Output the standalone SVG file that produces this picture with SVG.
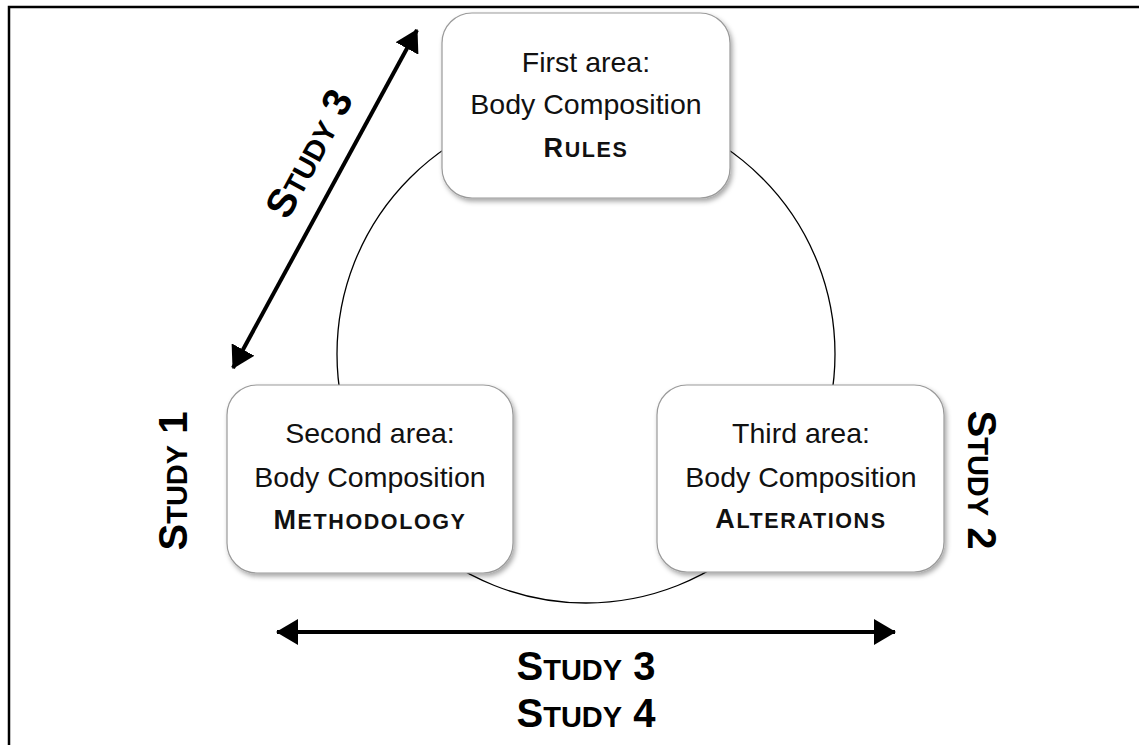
<svg xmlns="http://www.w3.org/2000/svg" width="1139" height="745" viewBox="0 0 1139 745">
<style>
.box{fill:#fff;stroke:#9a9a9a;stroke-width:1.2;filter:url(#sh)}
.t{font-family:"Liberation Sans",Arial,sans-serif;font-size:28.5px;fill:#111;text-anchor:middle}
.b{font-family:"Liberation Sans",Arial,sans-serif;font-weight:bold;fill:#111;text-anchor:middle;letter-spacing:1.6px}
.s{font-family:"Liberation Sans",Arial,sans-serif;font-weight:bold;fill:#000;text-anchor:middle}
.arr{stroke:#000;stroke-width:4;fill:none}
</style>
<defs>
<filter id="sh" x="-10%" y="-10%" width="125%" height="130%">
<feDropShadow dx="2" dy="3" stdDeviation="2.5" flood-color="#000" flood-opacity="0.35"/>
</filter>
<marker id="ah" viewBox="0 0 22 26" refX="21" refY="13" markerWidth="22" markerHeight="26" markerUnits="userSpaceOnUse" orient="auto-start-reverse">
<path d="M0,0 L22,13 L0,26 z" fill="#000"/>
</marker>
</defs>
<rect width="1139" height="745" fill="#fff"/>
<path d="M9,745 V7 H1139" fill="none" stroke="#000" stroke-width="2.5"/>
<circle cx="586" cy="354" r="249" fill="none" stroke="#000" stroke-width="1.3"/>
<g id="connectors">
<line class="arr" x1="233" y1="368" x2="417" y2="30" marker-start="url(#ah)" marker-end="url(#ah)"/>
<line class="arr" x1="277" y1="632" x2="895" y2="632" marker-start="url(#ah)" marker-end="url(#ah)"/>
</g>
<g id="node-first">
<rect class="box" x="442" y="13" width="288" height="185" rx="30"/>
<text class="t" x="586" y="72">First area:</text>
<text class="t" x="586" y="114">Body Composition</text>
<text class="b" x="586" y="157"><tspan font-size="27">R</tspan><tspan font-size="21.5">ULES</tspan></text>
</g>
<g id="node-second">
<rect class="box" x="227" y="385" width="286" height="188" rx="30"/>
<text class="t" x="370" y="443">Second area:</text>
<text class="t" x="370" y="487">Body Composition</text>
<text class="b" x="370" y="529"><tspan font-size="27">M</tspan><tspan font-size="21.5">ETHODOLOGY</tspan></text>
</g>
<g id="node-third">
<rect class="box" x="657" y="385" width="287" height="187" rx="30"/>
<text class="t" x="801" y="443">Third area:</text>
<text class="t" x="801" y="487">Body Composition</text>
<text class="b" x="801" y="528"><tspan font-size="27">A</tspan><tspan font-size="21.5">LTERATIONS</tspan></text>
</g>
<g id="labels">
<text class="s" transform="translate(187,481) rotate(-90)"><tspan font-size="40">S</tspan><tspan font-size="29">TUDY</tspan><tspan font-size="40"> 1</tspan></text>
<text class="s" transform="translate(968,480) rotate(90)"><tspan font-size="40">S</tspan><tspan font-size="29">TUDY</tspan><tspan font-size="40"> 2</tspan></text>
<text class="s" transform="translate(321,160) rotate(-61.5)"><tspan font-size="40">S</tspan><tspan font-size="29">TUDY</tspan><tspan font-size="40"> 3</tspan></text>
<text class="s" x="586" y="680"><tspan font-size="40">S</tspan><tspan font-size="29">TUDY</tspan><tspan font-size="40"> 3</tspan></text>
<text class="s" x="586" y="727"><tspan font-size="40">S</tspan><tspan font-size="29">TUDY</tspan><tspan font-size="40"> 4</tspan></text>
</g>
</svg>
